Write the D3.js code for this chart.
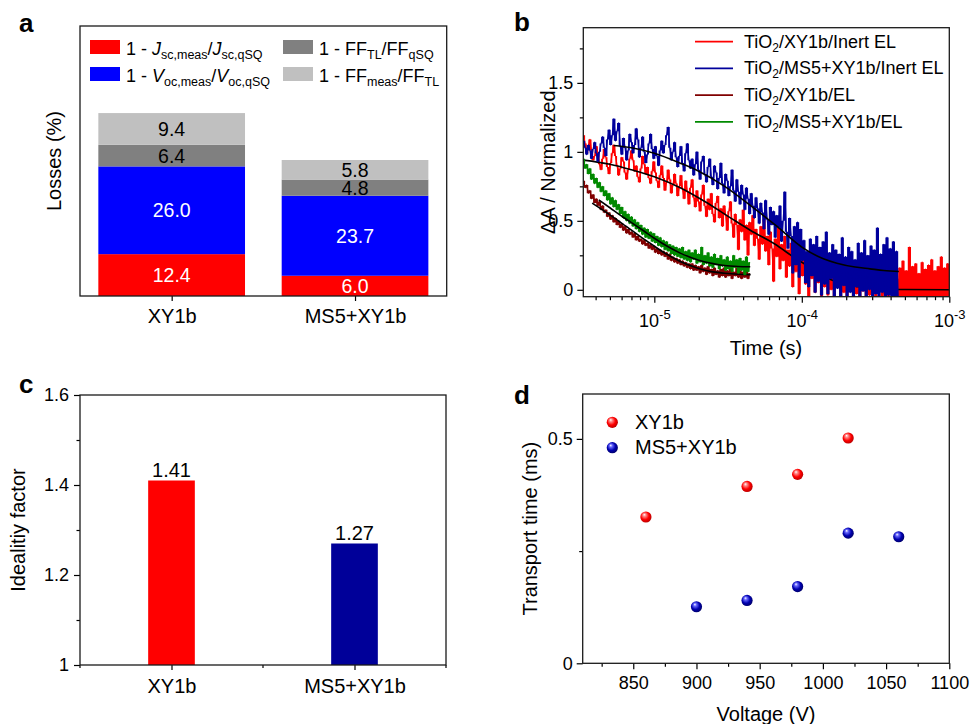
<!DOCTYPE html>
<html>
<head>
<meta charset="utf-8">
<script src="https://cdn.jsdelivr.net/npm/d3@7"></script>
<style>
  body { margin: 0; background: #fff; }
  svg { display: block; font-family: "Liberation Sans", Arial, sans-serif; }
</style>
</head>
<body>
<svg id="fig" width="971" height="724"></svg>
<script>
// ---------- (a) loss breakdown ----------
const lossCats   = ["XY1b", "MS5+XY1b"];
const jscLoss    = [12.4, 6.0];
const vocLoss    = [26.0, 23.7];
const ffTLLoss   = [6.4, 4.8];
const ffMeasLoss = [9.4, 5.8];

// ---------- (b) normalised transient absorption ----------
// samples on a shared log-spaced time grid: t_i = 10^(logT0 + i*logDT)
const logT0 = -5.48, logDT = 0.01083;
const taInertXY1b = [
  1.12,1.06,0.99,1.03,1.09,1.01,0.94,0.97,1.04,0.98,
  0.91,0.87,0.95,1.02,0.96,0.89,0.84,0.92,0.99,1.05,
  0.97,0.90,0.83,0.88,0.96,0.93,0.85,0.80,0.87,0.95,
  1.01,0.94,0.86,0.90,0.82,0.78,0.88,0.97,0.91,0.84,
  0.89,0.81,0.77,0.86,0.93,0.85,0.79,0.74,0.83,0.90,
  0.81,0.72,0.78,0.87,0.80,0.70,0.76,0.84,0.77,0.68,
  0.75,0.83,0.73,0.66,0.79,0.71,0.62,0.74,0.80,0.67,
  0.60,0.72,0.64,0.57,0.69,0.76,0.61,0.53,0.66,0.58,
  0.70,0.55,0.49,0.63,0.68,0.52,0.59,0.46,0.61,0.54,
  0.43,0.57,0.64,0.48,0.38,0.55,0.47,0.29,0.51,0.42,
  0.58,0.36,0.47,0.25,0.49,0.40,0.54,0.32,0.44,0.37,
  0.22,0.46,0.33,0.51,0.28,0.39,0.18,0.42,0.30,0.06,
  0.37,0.24,0.45,0.15,0.33,0.21,0.39,0.09,0.29,0.17,
  0.34,0.02,0.26,0.13,0.31,-0.03,0.22,0.10,0.27,0.04,
  0.19,-0.05,0.24,0.08,0.16,-0.02,0.21,0.05,0.14,-0.06,
  0.17,0.02,0.12,-0.04,0.15,0.00,0.10,-0.07,0.13,0.03,
  0.09,-0.05,0.12,-0.02,0.08,-0.08,0.11,0.01,0.06,-0.06,
  0.10,-0.03,0.07,-0.09,0.12,-0.01,0.05,-0.07,0.09,-0.04,
  0.11,-0.02,0.06,-0.08,0.08,0.00,0.10,-0.06,0.07,-0.03,
  0.09,-0.07,0.05,-0.02,0.11,-0.05,0.08,-0.09,0.16,-0.10,
  0.21,-0.08,0.14,-0.12,0.31,-0.07,0.17,-0.11,0.19,-0.09,
  0.12,-0.13,0.20,-0.06,0.15,-0.10,0.18,-0.08,0.22,-0.12,
  0.14,-0.09,0.17,-0.11,0.24,-0.07,0.16,-0.10,0.19,-0.08
];
const taInertMS5 = [
  1.08,1.03,0.98,1.05,1.01,0.95,1.02,1.07,0.99,0.93,
  1.00,1.06,1.11,1.03,0.97,1.09,1.16,1.05,1.12,1.24,
  1.08,1.15,1.21,1.04,0.98,1.10,1.03,0.94,1.01,1.13,
  1.07,0.99,1.05,1.17,1.09,0.96,1.03,1.11,1.00,0.92,
  0.98,1.06,1.13,1.02,0.95,1.04,0.97,0.90,1.01,1.08,
  0.99,1.05,1.12,1.18,1.03,0.94,1.00,1.07,0.96,0.89,
  0.97,1.04,0.92,0.86,0.99,1.06,0.94,0.88,0.95,0.83,
  0.91,1.00,0.87,0.80,0.93,0.97,0.84,0.78,0.89,0.95,
  0.82,0.76,0.90,0.85,0.73,0.81,0.92,0.77,0.70,0.84,
  0.79,0.68,0.75,0.87,0.72,0.64,0.80,0.71,0.62,0.76,
  0.69,0.58,0.74,0.66,0.55,0.70,0.61,0.52,0.67,0.59,
  0.48,0.63,0.56,0.44,0.65,0.51,0.40,0.60,0.47,0.57,
  0.38,0.54,0.45,0.61,0.35,0.50,0.71,0.42,0.30,0.52,
  0.39,0.12,0.46,0.18,0.49,0.09,0.44,0.21,0.36,0.05,
  0.28,0.02,0.37,0.10,0.33,-0.02,0.39,0.06,0.31,-0.04,
  0.35,0.04,0.42,-0.03,0.27,0.08,0.33,-0.06,0.29,0.01,
  0.26,-0.07,0.38,0.03,0.24,-0.05,0.31,-0.02,0.28,-0.08,
  0.22,0.02,0.34,-0.06,0.27,-0.01,0.36,-0.09,0.25,0.00,
  0.32,-0.07,0.29,-0.03,0.45,-0.08,0.26,-0.02,0.33,-0.10,
  0.38,-0.04,0.30,-0.09,0.35,-0.05,0.28,-0.06
];
const taELXY1b = [
  0.79,0.74,0.76,0.70,0.72,0.66,0.69,0.63,0.66,0.61,
  0.64,0.58,0.61,0.56,0.58,0.53,0.56,0.51,0.54,0.49,
  0.52,0.47,0.50,0.45,0.48,0.43,0.46,0.41,0.44,0.40,
  0.42,0.38,0.41,0.36,0.39,0.35,0.37,0.33,0.36,0.32,
  0.34,0.30,0.33,0.29,0.32,0.27,0.30,0.26,0.29,0.25,
  0.28,0.24,0.27,0.22,0.26,0.21,0.24,0.20,0.23,0.19,
  0.22,0.18,0.21,0.17,0.20,0.16,0.19,0.15,0.19,0.14,
  0.18,0.14,0.17,0.12,0.18,0.13,0.16,0.11,0.17,0.12,
  0.15,0.10,0.16,0.11,0.14,0.09,0.15,0.10,0.16,0.09,
  0.14,0.10,0.15,0.08,0.13,0.10,0.16,0.09,0.14,0.08,
  0.13,0.09,0.15,0.08,0.12
];
const taELMS5 = [
  0.95,0.88,0.91,0.84,0.88,0.80,0.84,0.77,0.81,0.74,
  0.78,0.71,0.75,0.68,0.72,0.65,0.70,0.62,0.67,0.60,
  0.65,0.58,0.62,0.55,0.60,0.52,0.57,0.50,0.55,0.48,
  0.53,0.46,0.51,0.44,0.49,0.42,0.47,0.40,0.45,0.38,
  0.44,0.37,0.42,0.35,0.41,0.34,0.39,0.32,0.38,0.31,
  0.36,0.29,0.35,0.28,0.33,0.26,0.32,0.25,0.31,0.24,
  0.30,0.23,0.31,0.22,0.28,0.21,0.29,0.20,0.27,0.22,
  0.29,0.19,0.26,0.20,0.31,0.18,0.25,0.19,0.27,0.17,
  0.24,0.16,0.26,0.18,0.23,0.15,0.25,0.17,0.22,0.14,
  0.24,0.15,0.21,0.13,0.25,0.16,0.22,0.12,0.23,0.14,
  0.21,0.11,0.24,0.13,0.20
];
// fitted decays (time in s, normalised ΔA)
const fitInertXY1bT = [3.3e-6,5e-6,7e-6,1e-5,1.5e-5,2.2e-5,3.3e-5,4.5e-5,6.6e-5,9e-5,1.15e-4,1.4e-4,1.8e-4,2.5e-4,3.5e-4,5e-4,1e-3];
const fitInertXY1bV = [0.94,0.91,0.87,0.82,0.74,0.64,0.52,0.43,0.33,0.23,0.16,0.10,0.05,0.02,0.006,0.002,0];
const fitInertMS5T  = [5.3e-6,7e-6,1e-5,1.5e-5,2e-5,3e-5,4.5e-5,6.6e-5,1.03e-4,1.4e-4,1.73e-4,2.3e-4,2.9e-4,3.6e-4,4.55e-4];
const fitInertMS5V  = [1.046,1.03,0.99,0.918,0.86,0.75,0.61,0.47,0.30,0.225,0.193,0.165,0.152,0.14,0.133];
const fitELXY1bT = [3.79e-6,5e-6,6e-6,7e-6,8.5e-6,1e-5,1.25e-5,1.5e-5,2e-5,2.5e-5,3e-5,3.7e-5,4.5e-5];
const fitELXY1bV = [0.628,0.543,0.484,0.432,0.368,0.316,0.25,0.205,0.155,0.13,0.12,0.113,0.11];
const fitELMS5T  = [4.2e-6,5e-6,6e-6,7e-6,8.5e-6,1e-5,1.25e-5,1.5e-5,2e-5,2.5e-5,3e-5,3.7e-5,4.47e-5];
const fitELMS5V  = [0.652,0.595,0.534,0.487,0.426,0.374,0.31,0.266,0.215,0.19,0.176,0.169,0.167];
const taLegend = ["TiO2/XY1b/Inert EL", "TiO2/MS5+XY1b/Inert EL", "TiO2/XY1b/EL", "TiO2/MS5+XY1b/EL"];

// ---------- (c) ideality factor ----------
const idealCats = ["XY1b", "MS5+XY1b"];
const idealityFactor = [1.41, 1.27];

// ---------- (d) transport time ----------
const voltXY1b  = [860, 940, 980, 1020];
const tTransXY1b = [0.326, 0.394, 0.421, 0.502];
const voltMS5   = [900, 940, 980, 1020, 1060];
const tTransMS5 = [0.126, 0.140, 0.171, 0.290, 0.282];

// ================= drawing =================
const svg = d3.select("#fig");
const INK = "#000";

function frame(box) {
  svg.append("rect")
    .attr("x", box.l).attr("y", box.t)
    .attr("width", box.r - box.l).attr("height", box.b - box.t)
    .attr("fill", "none").attr("stroke", "#1a1a1a").attr("stroke-width", 1.3);
}
function styleAxis(g, size) {
  g.select(".domain").remove();
  g.selectAll(".tick line").attr("stroke", INK).attr("stroke-width", 1.2);
  g.selectAll(".tick text").attr("fill", INK).attr("font-size", size)
    .attr("font-family", "Liberation Sans, Arial, sans-serif");
}
function panelLetter(ch, x, y) {
  svg.append("text").attr("x", x).attr("y", y).attr("font-size", 26)
    .attr("font-weight", "bold").attr("fill", INK).text(ch);
}
function yTitle(txt, x, cy) {
  svg.append("text").attr("transform", `translate(${x},${cy}) rotate(-90)`)
    .attr("text-anchor", "middle").attr("font-size", 20).attr("fill", INK).text(txt);
}
function xTitle(txt, cx, y) {
  svg.append("text").attr("x", cx).attr("y", y)
    .attr("text-anchor", "middle").attr("font-size", 20).attr("fill", INK).text(txt);
}

// ----- panel a -----
{
  const box = {l: 80, t: 26, r: 446.7, b: 296};
  const x = d3.scalePoint().domain(lossCats).range([box.l, box.r]).padding(0.5);
  const y = d3.scaleLinear().domain([0, 80]).range([box.b, box.t]);
  const keys = ["jsc", "voc", "ffTL", "ffMeas"];
  const colors = {jsc: "#ff0000", voc: "#0000ff", ffTL: "#808080", ffMeas: "#c0c0c0"};
  const labelInk = {jsc: "#fff", voc: "#fff", ffTL: "#000", ffMeas: "#000"};
  const rows = lossCats.map((c, i) => ({cat: c, jsc: jscLoss[i], voc: vocLoss[i], ffTL: ffTLLoss[i], ffMeas: ffMeasLoss[i]}));
  const stacked = d3.stack().keys(keys)(rows);
  const bw = x.step() * 0.8;
  stacked.forEach(layer => {
    const g = svg.append("g");
    g.selectAll("rect").data(layer).join("rect")
      .attr("x", d => x(d.data.cat) - bw / 2).attr("width", bw)
      .attr("y", d => y(d[1])).attr("height", d => y(d[0]) - y(d[1]))
      .attr("fill", colors[layer.key]);
    g.selectAll("text").data(layer).join("text")
      .attr("x", d => x(d.data.cat)).attr("y", d => (y(d[0]) + y(d[1])) / 2 + 7)
      .attr("text-anchor", "middle").attr("font-size", 19.5).attr("fill", labelInk[layer.key])
      .text(d => d3.format(".1f")(d.data[layer.key]));
  });
  const ax = svg.append("g").attr("transform", `translate(0,${box.b})`)
    .call(d3.axisBottom(x).tickSize(5).tickPadding(8));
  styleAxis(ax, 20);
  frame(box);
  yTitle("Losses (%)", 61, (box.t + box.b) / 2);
  panelLetter("a", 19, 32);

  // legend
  const leg = svg.append("g");
  const items = [
    {c: colors.jsc, x: 90, y: 40, parts: [["1 - ", 0], ["J", 0, true], ["sc,meas", 1], ["/", -1], ["J", 0, true], ["sc,qSQ", 1]]},
    {c: colors.voc, x: 90, y: 67, parts: [["1 - ", 0], ["V", 0, true], ["oc,meas", 1], ["/", -1], ["V", 0, true], ["oc,qSQ", 1]]},
    {c: colors.ffTL, x: 283, y: 40, parts: [["1 - FF", 0], ["TL", 1], ["/FF", -1], ["qSQ", 1]]},
    {c: colors.ffMeas, x: 283, y: 67, parts: [["1 - FF", 0], ["meas", 1], ["/FF", -1], ["TL", 1]]}
  ];
  items.forEach(it => {
    leg.append("rect").attr("x", it.x).attr("y", it.y).attr("width", 30).attr("height", 14).attr("fill", it.c);
    const t = leg.append("text").attr("x", it.x + 36).attr("y", it.y + 14.5).attr("font-size", 18).attr("fill", INK);
    let shifted = false;
    it.parts.forEach(([s, sub, ital]) => {
      const sp = t.append("tspan").text(s);
      if (sub === 1) { sp.attr("font-size", 12.5).attr("dy", shifted ? 0 : 4); shifted = true; }
      else if (shifted) { sp.attr("dy", -4); shifted = false; }
      if (ital) sp.attr("font-style", "italic");
    });
  });
}

// ----- panel b -----
{
  const box = {l: 583.3, t: 27.7, r: 949.3, b: 296.7};
  const x = d3.scaleLog().domain([3.3e-6, 1e-3]).range([box.l, box.r]);
  const y = d3.scaleLinear().domain([-0.05, 1.9]).range([box.b, box.t]);

  svg.append("clipPath").attr("id", "clipB").append("rect")
    .attr("x", box.l).attr("y", box.t).attr("width", box.r - box.l).attr("height", box.b - box.t);
  const plot = svg.append("g").attr("clip-path", "url(#clipB)");

  const tAt = i => Math.pow(10, logT0 + i * logDT);
  const asPts = arr => arr.map((v, i) => ({t: tAt(i), v}));
  const asFit = (ts, vs) => ts.map((t, i) => ({t, v: vs[i]}));
  // each sample interval is filled over the span of its two end values,
  // which renders a densely sampled noisy trace as a solid band
  const spans = pts => pts.map((p, i) => {
    const q = pts[Math.min(i + 1, pts.length - 1)];
    return {t: p.t, lo: Math.min(p.v, q.v), hi: Math.max(p.v, q.v)};
  });
  const band = d3.area().x(d => x(d.t)).y0(d => y(d.lo)).y1(d => y(d.hi)).curve(d3.curveStepAfter);
  const line = d3.line().x(d => x(d.t)).y(d => y(d.v));
  const smooth = d3.line().x(d => x(d.t)).y(d => y(d.v)).curve(d3.curveMonotoneX);

  const traces = [
    {data: asPts(taInertXY1b), fit: asFit(fitInertXY1bT, fitInertXY1bV), c: "#ff0000"},
    {data: asPts(taInertMS5),  fit: asFit(fitInertMS5T, fitInertMS5V),   c: "#00009c"},
    {data: asPts(taELXY1b),    fit: asFit(fitELXY1bT, fitELXY1bV),       c: "#800000"},
    {data: asPts(taELMS5),     fit: asFit(fitELMS5T, fitELMS5V),         c: "#008a00"}
  ];
  traces.forEach(tr => {
    plot.append("path").attr("d", band(spans(tr.data))).attr("fill", tr.c).attr("stroke", "none");
    plot.append("path").attr("d", line(tr.data)).attr("fill", "none")
      .attr("stroke", tr.c).attr("stroke-width", 1.2).attr("stroke-linejoin", "round");
    plot.append("path").attr("d", smooth(tr.fit)).attr("fill", "none")
      .attr("stroke", "#000").attr("stroke-width", 1.6);
  });

  // axes
  const yMaj = svg.append("g").attr("transform", `translate(${box.l},0)`)
    .call(d3.axisLeft(y).tickValues([0, 0.5, 1, 1.5]).tickSize(6).tickPadding(4).tickFormat(d => String(d)));
  styleAxis(yMaj, 18);
  const yMin = svg.append("g").attr("transform", `translate(${box.l},0)`)
    .call(d3.axisLeft(y).tickValues([0.25, 0.75, 1.25, 1.75]).tickSize(3.5).tickFormat(""));
  styleAxis(yMin, 18);

  const minorT = [];
  [1e-6, 1e-5, 1e-4].forEach(dec => d3.range(2, 10).forEach(k => { const v = k * dec; if (v > 3.3e-6 && v < 1e-3) minorT.push(v); }));
  const xMin = svg.append("g").attr("transform", `translate(0,${box.b})`)
    .call(d3.axisBottom(x).tickValues(minorT).tickSize(3.5).tickFormat(""));
  styleAxis(xMin, 18);
  const xMaj = svg.append("g").attr("transform", `translate(0,${box.b})`)
    .call(d3.axisBottom(x).tickValues([1e-5, 1e-4, 1e-3]).tickSize(6).tickPadding(10).tickFormat(""));
  styleAxis(xMaj, 18);
  xMaj.selectAll(".tick").each(function(d) {
    const t = d3.select(this).append("text").attr("y", 30).attr("text-anchor", "middle")
      .attr("font-size", 18).attr("fill", INK);
    t.append("tspan").text("10");
    t.append("tspan").attr("dy", -8).attr("font-size", 13).text(String(Math.round(Math.log10(d))));
  });

  frame(box);
  yTitle("\u0394A / Normalized", 555, (box.t + box.b) / 2);
  xTitle("Time (s)", 766, 355);
  panelLetter("b", 514, 31);

  // legend
  const leg = svg.append("g");
  taLegend.forEach((name, i) => {
    const yy = 41.7 + i * 26.7;
    leg.append("line").attr("x1", 695).attr("x2", 733).attr("y1", yy).attr("y2", yy)
      .attr("stroke", traces[i].c).attr("stroke-width", 1.8);
    const t = leg.append("text").attr("x", 744).attr("y", yy + 6).attr("font-size", 18).attr("fill", INK);
    const [head, tail] = name.split("O2");
    t.append("tspan").text(head + "O");
    t.append("tspan").attr("font-size", 12).attr("dy", 4).text("2");
    t.append("tspan").attr("dy", -4).text(tail);
  });
}

// ----- panel c -----
{
  const box = {l: 80, t: 395, r: 446, b: 665};
  const x = d3.scalePoint().domain(idealCats).range([box.l, box.r]).padding(0.5);
  const y = d3.scaleLinear().domain([1, 1.6]).range([box.b, box.t]);
  const colors = ["#ff0000", "#000099"];
  const bw = x.step() * 0.255;
  svg.append("g").selectAll("rect").data(idealityFactor).join("rect")
    .attr("x", (d, i) => x(idealCats[i]) - bw / 2).attr("width", bw)
    .attr("y", d => y(d)).attr("height", d => y(1) - y(d))
    .attr("fill", (d, i) => colors[i]);
  svg.append("g").selectAll("text").data(idealityFactor).join("text")
    .attr("x", (d, i) => x(idealCats[i])).attr("y", d => y(d) - 4)
    .attr("text-anchor", "middle").attr("font-size", 20).attr("fill", INK)
    .text(d => d3.format(".2f")(d));

  const yMaj = svg.append("g").attr("transform", `translate(${box.l},0)`)
    .call(d3.axisLeft(y).tickValues([1, 1.2, 1.4, 1.6]).tickSize(6).tickPadding(5).tickFormat(d => String(+d.toFixed(1))));
  styleAxis(yMaj, 18);
  const yMin = svg.append("g").attr("transform", `translate(${box.l},0)`)
    .call(d3.axisLeft(y).tickValues([1.1, 1.3, 1.5]).tickSize(3.5).tickFormat(""));
  styleAxis(yMin, 18);
  const ax = svg.append("g").attr("transform", `translate(0,${box.b})`)
    .call(d3.axisBottom(x).tickSize(5).tickPadding(9));
  styleAxis(ax, 20);
  // minor ticks halfway between and at the ends of the category axis
  const half = x.step() / 2;
  const xm = [x(idealCats[0]) - half, x(idealCats[0]) + half, x(idealCats[1]) + half];
  svg.append("g").selectAll("line").data(xm).join("line")
    .attr("x1", d => d).attr("x2", d => d).attr("y1", box.b).attr("y2", box.b + 3)
    .attr("stroke", INK).attr("stroke-width", 1.2);

  frame(box);
  yTitle("Idealitiy factor", 25, (box.t + box.b) / 2);
  panelLetter("c", 19, 393);
}

// ----- panel d -----
{
  const box = {l: 582.7, t: 394, r: 949.3, b: 663.3};
  const x = d3.scaleLinear().domain([810, 1100]).range([box.l, box.r]);
  const y = d3.scaleLinear().domain([0, 0.6]).range([box.b, box.t]);

  const defs = svg.append("defs");
  function ball(id, hi, mid, lo) {
    const g = defs.append("radialGradient").attr("id", id)
      .attr("cx", "45%").attr("cy", "45%").attr("r", "60%").attr("fx", "35%").attr("fy", "28%");
    g.append("stop").attr("offset", "0%").attr("stop-color", "#ffffff");
    g.append("stop").attr("offset", "22%").attr("stop-color", hi);
    g.append("stop").attr("offset", "60%").attr("stop-color", mid);
    g.append("stop").attr("offset", "100%").attr("stop-color", lo);
  }
  ball("ballRed", "#ff8a8a", "#ff0000", "#b00000");
  ball("ballBlue", "#6a6aff", "#0000b0", "#000060");

  const series = [
    {name: "XY1b", xs: voltXY1b, ys: tTransXY1b, fill: "url(#ballRed)"},
    {name: "MS5+XY1b", xs: voltMS5, ys: tTransMS5, fill: "url(#ballBlue)"}
  ];
  series.forEach(s => {
    svg.append("g").selectAll("circle").data(s.xs).join("circle")
      .attr("cx", d => x(d)).attr("cy", (d, i) => y(s.ys[i])).attr("r", 5.6)
      .attr("fill", s.fill);
  });

  const yMaj = svg.append("g").attr("transform", `translate(${box.l},0)`)
    .call(d3.axisLeft(y).tickValues([0, 0.5]).tickSize(6).tickPadding(4).tickFormat(d => String(d)));
  styleAxis(yMaj, 18);
  const yMin = svg.append("g").attr("transform", `translate(${box.l},0)`)
    .call(d3.axisLeft(y).tickValues([0.25]).tickSize(3.5).tickFormat(""));
  styleAxis(yMin, 18);
  const xMaj = svg.append("g").attr("transform", `translate(0,${box.b})`)
    .call(d3.axisBottom(x).tickValues([850, 900, 950, 1000, 1050, 1100]).tickSize(6).tickPadding(7).tickFormat(d => String(d)));
  styleAxis(xMaj, 18);
  const xMin = svg.append("g").attr("transform", `translate(0,${box.b})`)
    .call(d3.axisBottom(x).tickValues([825, 875, 925, 975, 1025, 1075]).tickSize(3.5).tickFormat(""));
  styleAxis(xMin, 18);

  frame(box);
  yTitle("Transport time (ms)", 537, (box.t + box.b) / 2);
  xTitle("Voltage (V)", 766, 721);
  panelLetter("d", 514, 404);

  // legend
  series.forEach((s, i) => {
    const yy = 422.3 + i * 25.4;
    svg.append("circle").attr("cx", 612.3).attr("cy", yy).attr("r", 5.6).attr("fill", s.fill);
    svg.append("text").attr("x", 635).attr("y", yy + 6.5).attr("font-size", 20).attr("fill", INK).text(s.name);
  });
}
</script>
</body>
</html>
